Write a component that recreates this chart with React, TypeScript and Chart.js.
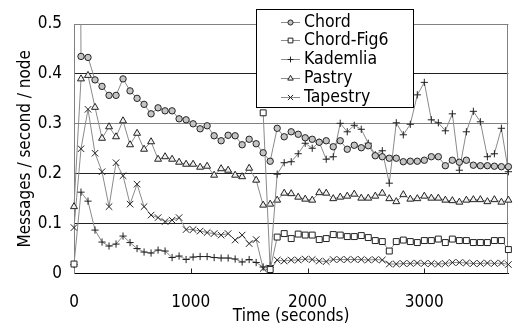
import React, { useEffect, useRef } from 'react';
import { Chart, registerables } from 'chart.js';

Chart.register(...registerables);

const times = [0, 60, 120, 180, 240, 300, 360, 420, 480, 540, 600, 660, 720, 780, 840, 900, 960, 1020, 1080, 1140, 1200, 1260, 1320, 1380, 1440, 1500, 1560, 1620, 1680, 1740, 1800, 1860, 1920, 1980, 2040, 2100, 2160, 2220, 2280, 2340, 2400, 2460, 2520, 2580, 2640, 2700, 2760, 2820, 2880, 2940, 3000, 3060, 3120, 3180, 3240, 3300, 3360, 3420, 3480, 3540, 3600, 3660, 3720];

const chord = [3.0, 0.435, 0.433, 0.388, 0.375, 0.357, 0.357, 0.39, 0.366, 0.351, 0.339, 0.32, 0.332, 0.326, 0.326, 0.31, 0.308, 0.3, 0.29, 0.296, 0.276, 0.266, 0.277, 0.276, 0.258, 0.269, 0.26, 0.242, 0.225, 0.291, 0.274, 0.284, 0.279, 0.272, 0.269, 0.263, 0.266, 0.254, 0.266, 0.249, 0.257, 0.252, 0.256, 0.236, 0.234, 0.231, 0.231, 0.224, 0.225, 0.225, 0.227, 0.234, 0.234, 0.216, 0.227, 0.223, 0.227, 0.217, 0.216, 0.216, 0.215, 0.214, 0.214];

const chordFig6 = [0.019, null, null, null, null, null, null, null, null, null, null, null, null, null, null, null, null, null, null, null, null, null, null, null, null, null, null, 0.322, 0.008, 0.073, 0.08, 0.07, 0.079, 0.077, 0.077, 0.068, 0.07, 0.078, 0.077, 0.074, 0.074, 0.076, 0.072, 0.066, 0.064, 0.045, 0.064, 0.067, 0.064, 0.062, 0.066, 0.066, 0.069, 0.062, 0.069, 0.066, 0.066, 0.062, 0.062, 0.062, 0.066, 0.066, 0.048];

const kademlia = [0.018, 0.163, 0.145, 0.087, 0.063, 0.055, 0.059, 0.075, 0.062, 0.05, 0.043, 0.041, 0.047, 0.045, 0.032, 0.035, 0.028, 0.033, 0.034, 0.034, 0.032, 0.031, 0.031, 0.029, 0.023, 0.028, 0.022, 0.013, 0.016, 0.199, 0.222, 0.224, 0.24, 0.261, 0.251, 0.263, 0.229, 0.234, 0.301, 0.284, 0.297, 0.289, 0.261, 0.238, 0.246, 0.181, 0.302, 0.278, 0.299, 0.358, 0.383, 0.308, 0.302, 0.286, 0.32, 0.207, 0.284, 0.325, 0.304, 0.234, 0.24, 0.291, 0.204];

const pastry = [0.134, 0.39, 0.397, 0.333, 0.271, 0.294, 0.274, 0.306, 0.258, 0.281, 0.249, 0.264, 0.229, 0.234, 0.229, 0.223, 0.219, 0.219, 0.213, 0.215, 0.197, 0.21, 0.207, 0.197, 0.194, 0.211, 0.187, 0.137, 0.139, 0.147, 0.161, 0.16, 0.153, 0.149, 0.147, 0.162, 0.161, 0.15, 0.153, 0.155, 0.159, 0.151, 0.151, 0.155, 0.161, 0.15, 0.144, 0.158, 0.149, 0.15, 0.155, 0.151, 0.151, 0.147, 0.146, 0.143, 0.147, 0.148, 0.148, 0.144, 0.148, 0.143, 0.147];

const tapestry = [0.092, 0.25, 0.329, 0.241, 0.204, 0.134, 0.222, 0.196, 0.139, 0.179, 0.134, 0.117, 0.112, 0.104, 0.107, 0.112, 0.088, 0.088, 0.085, 0.082, 0.08, 0.077, 0.08, 0.067, 0.077, 0.06, 0.068, 0.01, 0.006, 0.027, 0.025, 0.027, 0.027, 0.029, 0.028, 0.025, 0.024, 0.028, 0.028, 0.028, 0.028, 0.028, 0.027, 0.028, 0.027, 0.019, 0.019, 0.02, 0.02, 0.021, 0.02, 0.02, 0.019, 0.02, 0.022, 0.022, 0.021, 0.02, 0.02, 0.021, 0.02, 0.021, 0.018];

const seriesNames = ['Chord', 'Chord-Fig6', 'Kademlia', 'Pastry', 'Tapestry'];
const xTicks = [0, 1000, 2000, 3000];
const yTicks = [0, 0.1, 0.2, 0.3, 0.4, 0.5];
const xTitle = 'Time (seconds)';
const yTitle = 'Messages / second / node';

const FONT = "'DejaVu Sans Condensed', 'Liberation Sans', sans-serif";
const LINE = '#8a8a8a';
const MARK = '#222222';

const styles = [
  { pointStyle: 'circle', radius: 3.2, fill: '#c4c4c4' },
  { pointStyle: 'rect', radius: 4.2, fill: '#ffffff' },
  { pointStyle: 'cross', radius: 3.6, fill: '#ffffff' },
  { pointStyle: 'triangle', radius: 4.0, fill: '#f0f0f0' },
  { pointStyle: 'crossRot', radius: 4.6, fill: '#ffffff' },
];

function drawMarker(ctx: CanvasRenderingContext2D, style: string, r: number, x: number, y: number) {
  ctx.beginPath();
  if (style === 'circle') {
    ctx.arc(x, y, r, 0, Math.PI * 2);
    ctx.fill();
    ctx.stroke();
  } else if (style === 'rect') {
    const s = r * Math.SQRT1_2;
    ctx.rect(x - s, y - s, 2 * s, 2 * s);
    ctx.fill();
    ctx.stroke();
  } else if (style === 'triangle') {
    ctx.moveTo(x, y - r);
    ctx.lineTo(x + r * Math.sin((2 * Math.PI) / 3), y - r * Math.cos((2 * Math.PI) / 3));
    ctx.lineTo(x + r * Math.sin((4 * Math.PI) / 3), y - r * Math.cos((4 * Math.PI) / 3));
    ctx.closePath();
    ctx.fill();
    ctx.stroke();
  } else if (style === 'cross') {
    ctx.moveTo(x - r, y);
    ctx.lineTo(x + r, y);
    ctx.moveTo(x, y - r);
    ctx.lineTo(x, y + r);
    ctx.stroke();
  } else {
    const d = r * Math.SQRT1_2;
    ctx.moveTo(x - d, y - d);
    ctx.lineTo(x + d, y + d);
    ctx.moveTo(x - d, y + d);
    ctx.lineTo(x + d, y - d);
    ctx.stroke();
  }
}

const framePlugin = {
  id: 'frame',
  beforeDatasetsDraw(chart: any) {
    const { ctx, chartArea } = chart;
    const xs = chart.scales.x;
    ctx.save();
    ctx.lineWidth = 1;
    ctx.strokeStyle = '#808080';
    const rx = Math.round(chartArea.right) - 0.5;
    ctx.beginPath();
    ctx.moveTo(rx, chartArea.top);
    ctx.lineTo(rx, chartArea.bottom);
    ctx.stroke();
    ctx.strokeStyle = '#222';
    xTicks.forEach((v) => {
      if (v === 0) return;
      const px = Math.round(xs.getPixelForValue(v)) + 0.5;
      ctx.beginPath();
      ctx.moveTo(px, chartArea.bottom);
      ctx.lineTo(px, chartArea.bottom - 5);
      ctx.stroke();
    });
    ctx.restore();
  },
};

const legendPlugin = {
  id: 'boxLegend',
  afterDraw(chart: any) {
    const ctx: CanvasRenderingContext2D = chart.ctx;
    const x0 = 256.5, y0 = 9.5, w = 157, h = 98;
    ctx.save();
    ctx.fillStyle = '#ffffff';
    ctx.fillRect(x0, y0, w, h);
    ctx.strokeStyle = '#000';
    ctx.lineWidth = 1;
    ctx.strokeRect(x0, y0, w, h);
    chart.data.datasets.forEach((ds: any, i: number) => {
      const cy = Math.round(21.5 + i * 18.8) + 0.5;
      ctx.strokeStyle = LINE;
      ctx.lineWidth = 1;
      ctx.beginPath();
      ctx.moveTo(281, cy);
      ctx.lineTo(300, cy);
      ctx.stroke();
      ctx.fillStyle = ds.pointBackgroundColor;
      ctx.strokeStyle = ds.pointBorderColor;
      drawMarker(ctx, ds.pointStyle, ds.pointRadius * 0.8, 290.5, cy);
      ctx.fillStyle = '#000';
      ctx.font = `17.5px ${FONT}`;
      ctx.textBaseline = 'middle';
      ctx.textAlign = 'left';
      ctx.fillText(ds.label, 304, cy);
    });
    ctx.restore();
  },
};

const seriesValues = [chord, chordFig6, kademlia, pastry, tapestry];

export default function App() {
  const ref = useRef<HTMLCanvasElement>(null);
  useEffect(() => {
    const datasets = seriesNames.map((name, k) => ({
      label: name,
      data: times.map((t, i) => ({ x: t, y: seriesValues[k][i] })),
      borderColor: LINE,
      borderWidth: 1,
      pointStyle: styles[k].pointStyle,
      pointRadius: styles[k].radius,
      pointBackgroundColor: styles[k].fill,
      pointBorderColor: MARK,
      pointBorderWidth: 1,
      tension: 0,
      spanGaps: false,
      clip: { left: 8, top: 0, right: 8, bottom: 8 },
    }));
    const chart = new Chart(ref.current as HTMLCanvasElement, {
      type: 'line',
      data: { datasets } as any,
      plugins: [framePlugin, legendPlugin],
      options: {
        animation: false,
        responsive: false,
        devicePixelRatio: 1,
        events: [],
        layout: { padding: { top: 24, right: 1, left: 0, bottom: 0 } },
        plugins: { legend: { display: false }, tooltip: { enabled: false } },
        scales: {
          x: {
            type: 'linear',
            min: 0,
            max: 3720,
            afterBuildTicks: (s: any) => { s.ticks = xTicks.map((v) => ({ value: v })); },
            afterFit: (s: any) => { s.height = 57.5; },
            ticks: {
              callback: (v: any) => String(v),
              font: { family: FONT, size: 17 },
              color: '#000',
              padding: 19,
              maxRotation: 0,
              autoSkip: false,
            },
            grid: { drawOnChartArea: false, drawTicks: false },
            border: { color: '#000', width: 1 },
            title: {
              display: true,
              text: xTitle,
              font: { family: FONT, size: 17 },
              color: '#000',
              padding: { top: 0, bottom: 4 },
            },
          },
          y: {
            type: 'linear',
            min: 0,
            max: 0.5,
            afterBuildTicks: (s: any) => { s.ticks = yTicks.map((v) => ({ value: v })); },
            afterFit: (s: any) => { s.width = 74; },
            ticks: {
              callback: (v: any) => String(v),
              font: { family: FONT, size: 17 },
              color: '#000',
              padding: 12,
              autoSkip: false,
            },
            grid: {
              drawTicks: false,
              color: (c: any) => (c.tick && (c.tick.value === 0.3 || c.tick.value === 0.5) ? '#808080' : '#222222'),
            },
            border: { color: '#808080', width: 1 },
            title: {
              display: true,
              text: yTitle,
              font: { family: FONT, size: 17 },
              color: '#000',
              padding: { top: 15, bottom: 0 },
            },
          },
        },
      } as any,
    });
    return () => chart.destroy();
  }, []);
  return (
    <div style={{ position: 'absolute', left: 0, top: 0, width: 514, height: 331, background: '#fff' }}>
      <canvas ref={ref} width={514} height={331} style={{ display: 'block', width: 514, height: 331 }} />
    </div>
  );
}
